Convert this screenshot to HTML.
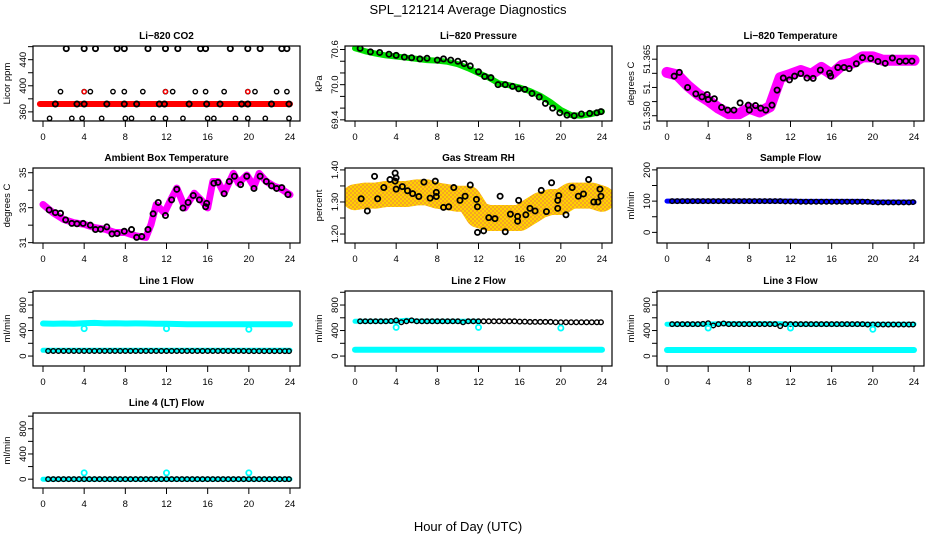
<!DOCTYPE html>
<html><head><meta charset="utf-8">
<style>
html,body{margin:0;padding:0;background:#fff;}
svg{display:block;font-family:"Liberation Sans",Arial,sans-serif;}
.t{font-size:10px;font-weight:bold;text-anchor:middle;}
.tk{font-size:9.5px;text-anchor:middle;}
</style></head>
<body>
<svg id="c" width="936" height="540" viewBox="0 0 936 540">
<defs>
<pattern id="rhpat" width="4" height="4" patternUnits="userSpaceOnUse">
<rect width="4" height="4" fill="#f5a623"/>
<rect width="2" height="2" fill="#ffd200"/>
<rect x="2" y="2" width="2" height="2" fill="#ffd200"/>
</pattern>
</defs>
<text x="468" y="14" font-size="13" text-anchor="middle">SPL_121214  Average Diagnostics</text>
<text x="468" y="531" font-size="13" text-anchor="middle">Hour of Day (UTC)</text>
</svg>
<script>
// ---- shared data ----
const xTicks = [0,4,8,12,16,20,24];
const hours25 = [0,1,2,3,4,5,6,7,8,9,10,11,12,13,14,15,16,17,18,19,20,21,22,23,24];
const hours48 = [0.5,1,1.5,2,2.5,3,3.5,4,4.5,5,5.5,6,6.5,7,7.5,8,8.5,9,9.5,10,10.5,11,11.5,12,12.5,13,13.5,14,14.5,15,15.5,16,16.5,17,17.5,18,18.5,19,19.5,20,20.5,21,21.5,22,22.5,23,23.5,23.9];

// CO2
const co2BandVals = [372,372,372,372,372,372,372,372,372,372,372,372,372,372,372,372,372,372,372,372,372,372,372,372,372];
const co2TopHours = [2.26,4.0,5.1,7.2,7.9,10.2,11.9,13.1,15.3,15.8,18.2,19.9,21.1,23.2,23.7];
const co2TopVals = [457,457,457,457,457,457,457,457,457,457,457,457,457,457,457];
const co2MidHours = [1.7,4.0,4.6,6.8,7.9,9.7,11.9,12.6,14.8,15.8,17.6,19.9,20.6,22.7,23.7];
const co2MidVals = [391,391,391,391,391,391,391,391,391,391,391,391,391,391,391];
const co2LowHours = [0.64,2.8,3.8,5.7,8.0,8.6,10.7,11.9,13.6,16.0,16.6,18.7,19.9,21.6,23.9];
const co2LowVals = [350,350,350,350,350,350,350,350,350,350,350,350,350,350,350];
const co2BaseHours = [1.2,3.3,4.0,6.2,7.9,9.1,11.3,11.8,14.2,15.9,17.2,19.3,19.9,22.2,23.9];
const co2BaseVals = [372,372,372,372,372,372,372,372,372,372,372,372,372,372,372];
const co2RedHours = [4.0,11.9,19.9];
const co2RedVals = [391,391,391];

// Pressure
const presVals = [70.62,70.57,70.53,70.5,70.48,70.46,70.44,70.42,70.41,70.39,70.35,70.28,70.2,70.12,70.02,69.99,69.95,69.89,69.81,69.7,69.57,69.48,69.47,69.5,69.54];
const presCircHours = [0.5,1.5,2.4,3.3,4.0,4.8,5.5,6.3,7.0,8.0,8.6,9.3,10.0,10.6,11.2,12.0,12.6,13.2,13.9,14.6,15.3,15.9,16.5,17.2,17.9,18.5,19.2,19.9,20.6,21.3,22.0,22.8,23.5,23.9];
const presCircVals = [70.62,70.56,70.55,70.52,70.5,70.47,70.46,70.44,70.45,70.42,70.44,70.42,70.4,70.36,70.32,70.22,70.14,70.12,70.0,70.0,69.97,69.93,69.92,69.85,69.79,69.68,69.6,69.52,69.48,69.47,69.5,69.51,69.52,69.54];

// Li-820 temperature
const tempVals = [51.3615,51.3608,51.358,51.3557,51.354,51.352,51.3505,51.3505,51.352,51.351,51.3524,51.3601,51.361,51.362,51.361,51.3628,51.361,51.3634,51.364,51.3656,51.3656,51.3647,51.3647,51.3647,51.3647];
const tempCircHours = [0.7,1.2,2.0,2.8,3.4,3.9,4.0,4.6,5.3,5.9,6.5,7.1,7.9,8.0,8.6,9.1,9.6,10.2,10.7,11.3,11.9,12.4,13.0,13.6,14.2,14.9,15.8,15.9,16.6,17.2,17.7,18.4,19.0,19.8,20.5,21.2,21.9,22.6,23.2,23.8];
const tempCircVals = [51.3605,51.3615,51.3575,51.3558,51.355,51.3556,51.3543,51.3545,51.3522,51.3515,51.3515,51.3534,51.3528,51.3515,51.3527,51.352,51.3515,51.3528,51.3568,51.36,51.3595,51.3605,51.3612,51.36,51.3599,51.3621,51.3613,51.3605,51.3628,51.3628,51.3625,51.3638,51.3654,51.3652,51.3644,51.3639,51.3653,51.3644,51.3645,51.3645];

// Ambient box temperature
const ambHours = [0,1,2,3,4,5,6,7,8,9,10,10.5,11,11.8,12.5,13,13.8,14.7,15.5,16,16.5,17,17.6,18.5,19,19.8,20.5,21,21.7,22.5,23,24];
const ambVals = [33.18,32.7,32.33,32.14,32.05,31.86,31.77,31.58,31.58,31.39,31.3,32.05,33.18,32.7,33.55,34.12,32.99,33.83,33.36,32.99,34.5,34.5,33.83,34.96,34.4,34.87,34.21,34.96,34.5,34.21,34.12,33.74];
const ambCircHours = [0.6,1.2,1.7,2.2,2.8,3.3,3.9,4.6,5.1,5.6,6.2,6.7,7.2,7.9,8.6,9.1,9.6,10.2,10.7,11.2,11.9,12.5,13.0,13.6,14.1,14.6,15.2,15.8,15.9,16.6,17.0,17.6,18.1,18.6,19.2,19.8,20.5,21.1,21.7,22.2,22.7,23.2,23.8];
const ambCircVals = [32.87,32.72,32.68,32.3,32.1,32.08,32.1,32.0,31.75,31.77,31.9,31.5,31.52,31.65,31.75,31.3,31.35,31.75,32.65,33.3,32.55,33.45,34.05,32.98,33.3,33.7,33.45,33.05,33.25,34.4,34.45,33.8,34.5,34.8,34.32,34.8,34.1,34.8,34.5,34.25,34.1,34.15,33.75];

// Gas stream RH
const rhBandVals = [1.315,1.32,1.32,1.325,1.325,1.325,1.33,1.33,1.32,1.315,1.31,1.31,1.26,1.25,1.25,1.25,1.25,1.27,1.29,1.3,1.3,1.32,1.32,1.32,1.31];
const rhCircHours = [0.6,1.2,1.9,2.2,2.8,3.4,3.9,4.0,3.9,4.0,4.6,5.1,5.6,6.2,6.7,7.3,7.8,7.9,7.9,8.6,9.1,9.6,10.2,10.7,11.2,11.8,11.9,11.9,12.5,13.0,13.6,14.1,14.6,15.1,15.8,15.8,15.9,16.6,17.0,17.5,18.1,18.6,19.1,19.7,19.7,19.8,20.5,21.1,21.7,22.2,22.7,23.2,23.6,23.8,23.9];
const rhCircVals = [1.31,1.272,1.38,1.31,1.345,1.37,1.39,1.375,1.365,1.34,1.348,1.335,1.326,1.317,1.362,1.312,1.365,1.33,1.317,1.283,1.285,1.345,1.305,1.318,1.353,1.308,1.285,1.205,1.21,1.251,1.248,1.318,1.207,1.262,1.255,1.24,1.305,1.26,1.28,1.272,1.336,1.27,1.36,1.28,1.305,1.32,1.26,1.345,1.318,1.325,1.37,1.3,1.3,1.34,1.318];

// Sample flow
const sfBandVals = [100,100,100,100,100,100,100,100,100,100,100,100,100,99,99,99,99,99,99,99,97,97,97,97,97];
const sfCircVals = [100,100,100,100,100,100,100,100,100,100,100,100,100,100,100,100,100,100,100,100,100,100,99,99,99,98,98,98,98,98,98,98,98,98,98,98,98,98,98,97,96,96,96,96,96,96,96,97];

// Line flows
const l1UpperVals = [510,508,510,508,515,520,512,515,510,512,510,508,505,502,500,500,500,500,500,500,500,500,500,500,500];
const l1LowerVals = [90,90,90,90,90,90,90,90,90,90,90,90,90,90,90,90,90,90,90,90,90,90,90,90,90];
const l1CircVals = [80,80,80,80,80,80,80,80,80,80,80,80,80,80,80,80,80,80,80,80,80,80,80,80,80,80,80,80,80,80,80,80,80,80,80,80,80,80,80,78,78,78,78,78,78,78,78,78];
const l2UpperVals = [545,545,545,545,545,560,550,545,545,545,545,545,545,540,540,540,535,535,535,535,530,530,530,530,530];
const l2LowerVals = [100,100,100,100,100,100,100,100,100,100,100,100,100,100,100,100,100,100,100,100,100,100,100,100,100];
const l2CircVals = [545,545,545,545,545,545,550,560,530,545,560,545,545,545,545,545,545,545,545,545,530,545,545,545,545,545,545,545,545,545,545,540,540,535,535,535,535,535,530,530,530,530,530,530,530,530,530,530];
const l3UpperVals = [500,500,500,500,500,505,505,505,505,505,505,505,500,500,500,500,500,500,500,500,500,500,500,500,500];
const l3LowerVals = [95,95,95,95,95,95,95,95,95,95,95,95,95,95,95,95,95,95,95,95,95,95,95,95,95];
const l3CircVals = [500,500,500,500,500,500,505,515,480,500,510,500,500,500,500,500,500,500,500,500,500,470,500,500,500,500,500,500,500,500,500,500,500,500,500,500,500,500,495,495,495,495,495,495,495,495,495,495];
const l4CircVals = [0,0,0,0,0,0,0,0,0,0,0,0,0,0,0,0,0,0,0,0,0,0,0,0,0,0,0,0,0,0,0,0,0,0,0,0,0,0,0,0,0,0,0,0,0,0,0,0];
const l4BandVals = [0,0,0,0,0,0,0,0,0,0,0,0,0,0,0,0,0,0,0,0,0,0,0,0,0];
const dipHours = [4,12,20];
const l1DipVals = [430,430,420];
const l2DipVals = [450,450,440];
const l3DipVals = [440,440,420];
const l4DipVals = [100,100,100];

// ---- drawing ----
const NS = "http://www.w3.org/2000/svg";
const svg = document.getElementById('c');
const colL = [33,345,657];
const rowT = [46,168,291,413];
const PW = 267, PH = 75;

function mk(tag, attrs, parent){
  const e = document.createElementNS(NS, tag);
  for (const k in attrs) e.setAttribute(k, attrs[k]);
  (parent||svg).appendChild(e);
  return e;
}

function panel(col,row,title,ylab,ymin,ymax,ticks,labels,slug){
  const L = colL[col], T = rowT[row];
  const g = mk('g',{});
  
  
  const xs = h => L + 10 + h * 247/24;
  const ys = v => T + PH - (v - ymin) / (ymax - ymin) * PH;
  const clip = mk('clipPath',{id:'cp'+slug}, g);
  mk('rect',{x:L,y:T,width:PW,height:PH}, clip);
  const plot = mk('g',{'clip-path':'url(#cp'+slug+')'}, g);
  
  
  const t = mk('text',{x:L+PW/2,y:T-7,class:'t'}, g);
  t.textContent = title;
  
  
  const b = mk('rect',{x:L,y:T,width:PW,height:PH,fill:'none',stroke:'#000','stroke-width':1.2}, g);
  
  
  const xa = mk('g',{}, g);
  
  
  xTicks.forEach(h=>{
    mk('line',{x1:xs(h),x2:xs(h),y1:T+PH,y2:T+PH+6,stroke:'#000'}, xa);
    const tl = mk('text',{x:xs(h),y:T+PH+19,class:'tk'}, xa);
    tl.textContent = h;
  });
  const ya = mk('g',{}, g);
  
  
  mk('line',{x1:L,x2:L,y1:ys(ticks[0]),y2:ys(ticks[ticks.length-1]),stroke:'#000'}, ya);
  ticks.forEach((v,i)=>{
    mk('line',{x1:L-5,x2:L,y1:ys(v),y2:ys(v),stroke:'#000'}, ya);
    if (labels[i]) {
      const tl = mk('text',{x:L-7,y:ys(v),class:'tk',transform:'rotate(-90 '+(L-7)+' '+ys(v)+')'}, ya);
      tl.textContent = labels[i];
    }
  });
  const yt = mk('text',{x:L-23,y:T+PH/2,class:'tk',transform:'rotate(-90 '+(L-23)+' '+(T+PH/2)+')'}, ya);
  yt.textContent = ylab;
  
  
  return {xs, ys, plot};
}

function band(p, hs, vs, color, w, name){
  const pts = hs.map((h,i)=>p.xs(h).toFixed(1)+','+p.ys(vs[i]).toFixed(1)).join(' ');
  const e = mk('polyline',{points:pts,fill:'none',stroke:color,'stroke-width':w,'stroke-linejoin':'round','stroke-linecap':'round'}, p.plot);
  
  
}
function circles(p, hs, vs, color, name, r, sw){
  const g = mk('g',{}, p.plot);
  
  
  hs.forEach((h,i)=>{
    mk('circle',{cx:p.xs(h),cy:p.ys(vs[i]),r:r||2.6,fill:'none',stroke:color,'stroke-width':sw||1.8}, g);
  });
}

let p = panel(0,0,'Li\u2212820 CO2','Licor ppm',346,461,[360,380,400,420,440,460],['360','','400','','440',''],'co2');
band(p, [-0.3].concat(hours25.slice(1)), co2BandVals, '#ff0000', 6, 'co2-band');
circles(p, co2TopHours, co2TopVals, '#000', 'co2-points-high');
circles(p, co2MidHours, co2MidVals, '#000', 'co2-points-mid', 2.2, 1.4);
circles(p, co2LowHours, co2LowVals, '#000', 'co2-points-low', 2.2, 1.4);
circles(p, co2BaseHours, co2BaseVals, '#000', 'co2-points-base');
circles(p, co2RedHours, co2RedVals, '#ff0000', 'co2-points-red', 2, 1.4);

p = panel(1,0,'Li\u2212820 Pressure','kPa',69.38,70.66,[69.4,69.6,69.8,70.0,70.2,70.4,70.6],['69.4','','','70.0','','','70.6'],'pressure');
band(p, hours25, presVals, '#00e000', 6, 'pressure-band');
circles(p, presCircHours, presCircVals, '#000', 'pressure-points');

p = panel(2,0,'Li\u2212820 Temperature','degrees C',51.3486,51.3685,[51.35,51.35375,51.3575,51.36125,51.365],['51.350','','51.','','51.365'],'li820-temp');
band(p, hours25, tempVals, '#ff00ff', 11, 'li820-temp-band');
circles(p, tempCircHours, tempCircVals, '#000', 'li820-temp-points');

p = panel(0,1,'Ambient Box Temperature','degrees C',30.98,35.27,[31,32,33,34,35],['31','','33','','35'],'ambient');
band(p, ambHours, ambVals, '#ff00ff', 7, 'ambient-band');
circles(p, ambCircHours, ambCircVals, '#000', 'ambient-points');

p = panel(1,1,'Gas Stream RH','percent',1.172,1.406,[1.2,1.25,1.3,1.35,1.4],['1.20','','1.30','','1.40'],'rh');
band(p, hours25, rhBandVals, 'url(#rhpat)', 26, 'rh-band');
circles(p, rhCircHours, rhCircVals, '#000', 'rh-points');

p = panel(2,1,'Sample Flow','ml/min',-34,206,[0,50,100,150,200],['0','','100','','200'],'sample-flow');
band(p, hours25, sfBandVals, '#0000ff', 5, 'sample-flow-band');
circles(p, hours48, sfCircVals, '#000', 'sample-flow-points', 2.3, 1.4);

p = panel(0,2,'Line 1 Flow','ml/min',-156,1020,[0,200,400,600,800,1000],['0','','400','','800',''],'line1');
band(p, hours25, l1UpperVals, '#00ffff', 6, 'line1-upper-band');
band(p, hours25, l1LowerVals, '#00ffff', 5, 'line1-lower-band');
circles(p, hours48, l1CircVals, '#000', 'line1-points', 2.3, 1.4);
circles(p, dipHours, l1DipVals, '#00ffff', 'line1-outliers');

p = panel(1,2,'Line 2 Flow','ml/min',-156,1020,[0,200,400,600,800,1000],['0','','400','','800',''],'line2');
band(p, hours25, l2LowerVals, '#00ffff', 6, 'line2-lower-band');
band(p, hours25.slice(0,13), l2UpperVals.slice(0,13), '#00ffff', 5, 'line2-upper-band');
circles(p, hours48, l2CircVals, '#000', 'line2-points', 2.3, 1.4);
circles(p, dipHours, l2DipVals, '#00ffff', 'line2-outliers');

p = panel(2,2,'Line 3 Flow','ml/min',-156,1020,[0,200,400,600,800,1000],['0','','400','','800',''],'line3');
band(p, hours25, l3LowerVals, '#00ffff', 6, 'line3-lower-band');
band(p, hours25, l3UpperVals, '#00ffff', 5, 'line3-upper-band');
circles(p, hours48, l3CircVals, '#000', 'line3-points', 2.3, 1.4);
circles(p, dipHours, l3DipVals, '#00ffff', 'line3-outliers');

p = panel(0,3,'Line 4 (LT) Flow','ml/min',-140,1050,[0,200,400,600,800,1000],['0','','400','','800',''],'line4');
band(p, hours25, l4BandVals, '#00ffff', 5, 'line4-band');
circles(p, hours48, l4CircVals, '#000', 'line4-points', 2.3, 1.4);
circles(p, dipHours, l4DipVals, '#00ffff', 'line4-outliers');
</script>
</body></html>
